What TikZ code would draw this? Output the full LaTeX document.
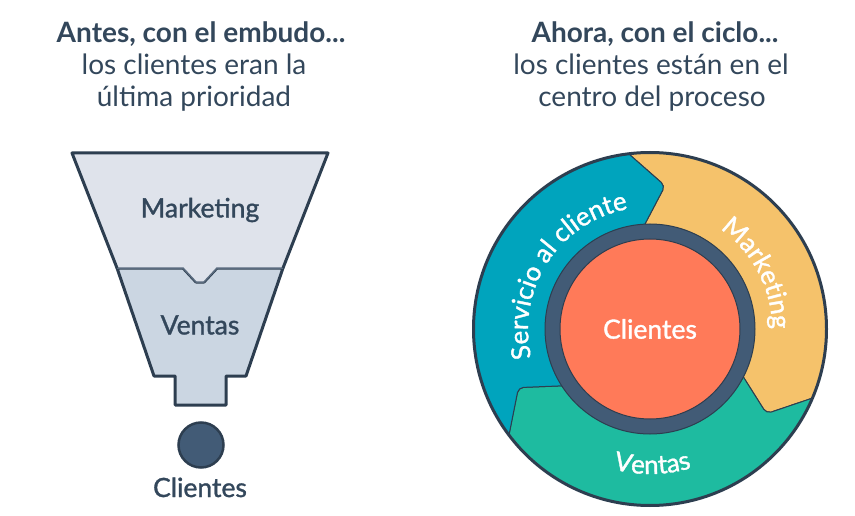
\documentclass[tikz,border=0pt]{standalone}
\usepackage{fontspec}
\setmainfont{Lato}
\newfontfamily\medfont{Lato}[FakeBold=1.3]
\usetikzlibrary{decorations.text}

\definecolor{edge}{HTML}{2D3E50}
\definecolor{textc}{HTML}{33475B}
\definecolor{funneltop}{HTML}{DFE3EB}
\definecolor{funnelbot}{HTML}{CBD6E2}
\definecolor{notchline}{HTML}{5A6B7E}
\definecolor{ringblue}{HTML}{425B76}
\definecolor{coral}{HTML}{FF7A59}
\definecolor{flyblue}{HTML}{00A4BD}
\definecolor{flyorange}{HTML}{F5C26B}
\definecolor{flygreen}{HTML}{1EBBA0}

\newcommand\headfont{\fontsize{28}{32}\selectfont}
\newcommand\labelfont{\medfont\fontsize{26.5}{30}\selectfont}
\newcommand\flyfont{\medfont\fontsize{26}{26}\selectfont\color{white}}

\begin{document}
\begin{tikzpicture}[x=1pt, y=1pt,
	title/.style={text=textc, font=\headfont\bfseries, anchor=base, inner sep=0},
	subtitle/.style={text=textc, font=\headfont, anchor=base, inner sep=0},
	funnelpart/.style={draw=edge, line width=3pt, line join=round},
	label/.style={text=textc, font=\labelfont, inner sep=0},
	flytext/.style={decorate, decoration={text along path, text align=center, text={|\flyfont|#1}}}]

	\useasboundingbox (0,0) rectangle (855,-516);

	% titles
	\node[title] (antes) at (201,-43) {Antes, con el embudo...};
	\node[subtitle] (antes2) at (194,-75) {los clientes eran la};
	\node[subtitle] (antes3) at (194,-107) {última prioridad};
	\node[title] (ahora) at (655,-43) {Ahora, con el ciclo...};
	\node[subtitle] (ahora2) at (651,-75) {los clientes están en el};
	\node[subtitle] (ahora3) at (652,-107) {centro del proceso};

	% funnel
	\filldraw[funnelpart, fill=funnelbot] (117,-268) -- (183,-268) -- (196,-282) -- (204,-282) -- (217,-268) -- (283,-268)
		-- (246,-376) -- (226,-376) -- (226,-405) -- (175,-405) -- (175,-376) -- (154,-376) -- cycle;
	\fill[funneltop] (72,-153) -- (328,-153) -- (283,-268) -- (217,-268) -- (204,-282) -- (196,-282) -- (183,-268) -- (117,-268) -- cycle;
	\draw[notchline, line width=1.5pt, line join=round] (117,-268) -- (183,-268) -- (196,-282) -- (204,-282) -- (217,-268) -- (283,-268);
	\draw[funnelpart] (117,-268) -- (72,-153) -- (328,-153) -- (283,-268);
	\node[label] (mkt) at (200,-210) {Marketing};
	\node[label] (vts) at (200,-325) {Ventas};
	\node[circle, draw=edge, line width=2.5pt, fill=ringblue, minimum size=45pt, inner sep=0] (dot) at (201,-445) {};
	\node[label, anchor=base] (cli) at (200,-497) {Clientes};

	% flywheel
	\begin{scope}[shift={(650,-329)}]
		\def\rin{96}
		\def\rtip{144}
		\def\rout{188}
		\begin{scope}
			\clip (0,0) circle (177);
			\foreach \t/\col in {93/flyorange, -27/flygreen, -147/flyblue}{
				\pgfmathsetmacro\h{\t-120}
				\filldraw[fill=\col, draw=edge, line width=1pt, rounded corners=5pt]
					(\t+7:\rout) arc[start angle=\t+7, end angle=\h+7, radius=\rout]
					-- (\h-9:\rtip) -- (\h+3:\rin)
					arc[start angle=\h+3, end angle=\t+3, radius=\rin]
					-- (\t-9:\rtip) -- cycle;
			}
		\end{scope}
		\draw[edge, line width=3pt] (0,0) circle (176.5);
		\filldraw[draw=edge, line width=1pt, fill=ringblue] (0,0) circle (105);
		\filldraw[draw=edge, line width=1pt, fill=coral] (0,0) circle (90);
		\node[text=white, font=\labelfont] (core) at (0,0) {Clientes};
		\path[flytext={Servicio al cliente}] (198:122) arc[start angle=198, end angle=96, radius=122];
		\path[flytext={Marketing}] (64:122) arc[start angle=64, end angle=-9, radius=122];
		\path[flytext={Ventas}] (-124:145) arc[start angle=-124, end angle=-54, radius=145];
	\end{scope}

\end{tikzpicture}
\end{document}
